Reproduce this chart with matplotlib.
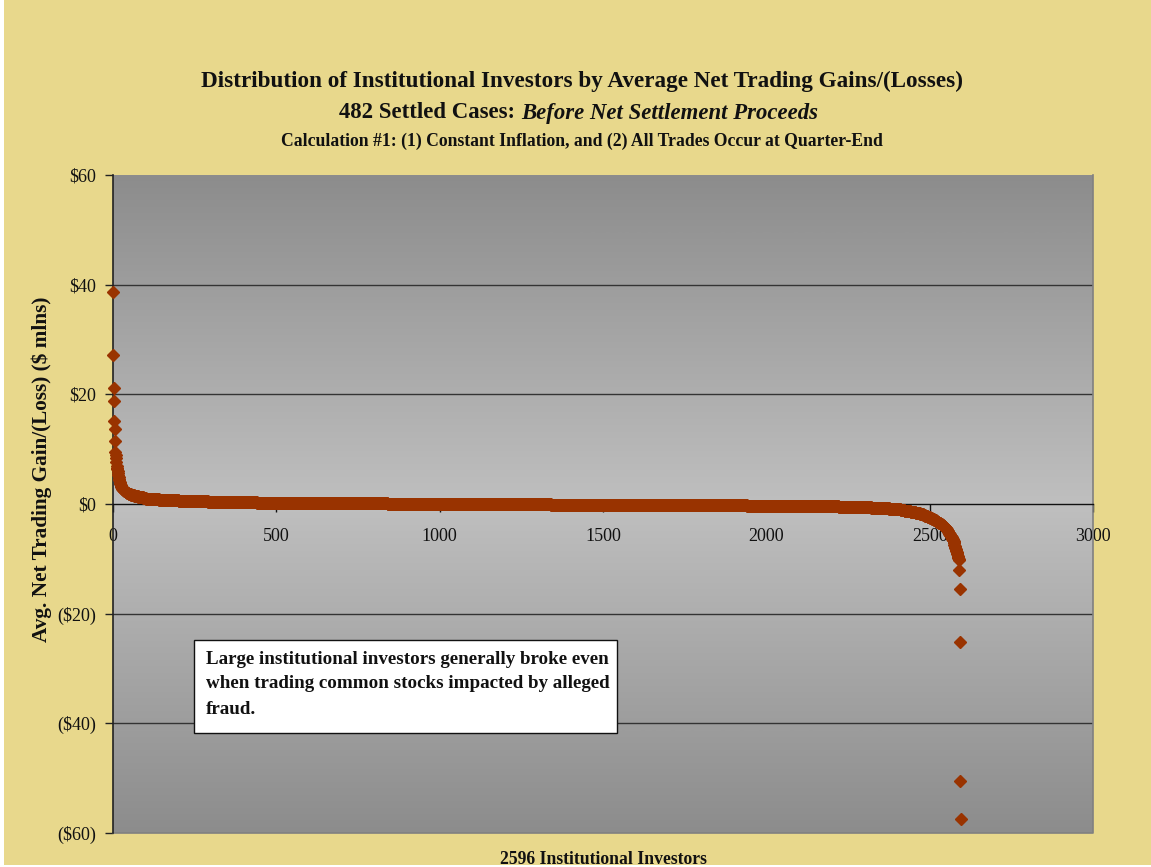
import numpy as np
import matplotlib
matplotlib.use("Agg")
import matplotlib.pyplot as plt
from matplotlib.patches import Rectangle
from matplotlib.ticker import FuncFormatter

# ---- data: average net trading gain/(loss) per investor, $ millions, sorted high to low ----
# largest gainers, one value per investor
head_values = [38.7, 27.2, 21.2, 18.8, 15.2, 13.7, 11.4, 9.5, 8.9, 8.3,
               7.6, 7.0, 6.6, 6.3, 6.0, 5.6, 5.2, 4.9, 4.6, 4.3,
               4.0, 3.8, 3.6, 3.4, 3.3, 3.2, 3.1, 3.0, 2.9, 2.8,
               2.7, 2.65, 2.6, 2.55, 2.5, 2.45, 2.4, 2.35, 2.3, 2.25,
               2.2, 2.15, 2.1, 2.05, 2.0, 1.98, 1.95, 1.92, 1.9, 1.87,
               1.85, 1.82, 1.8, 1.78, 1.75, 1.73, 1.7, 1.68, 1.66, 1.64]

# bulk of investors, as rounded levels and the number of investors at each level
body_levels = [1.6, 1.5, 1.4, 1.3, 1.2, 1.1, 1.0, 0.9, 0.8, 0.7,
               0.6, 0.5, 0.4, 0.3, 0.2, 0.1, 0.0, -0.1, -0.2, -0.3,
               -0.4, -0.5, -0.6, -0.7, -0.8, -0.9, -1.0, -1.1, -1.2, -1.3,
               -1.4, -1.5, -1.6, -1.7, -1.8, -1.9, -2.0, -2.1, -2.2, -2.3,
               -2.4, -2.5, -2.6, -2.7, -2.8, -2.9, -3.0, -3.1, -3.2, -3.3,
               -3.4, -3.5, -3.6, -3.7, -3.8, -3.9, -4.0, -4.1, -4.2, -4.3]
body_counts = [5, 6, 6, 8, 8, 8, 15, 25, 25, 35,
               40, 50, 60, 90, 150, 250, 500, 350, 250, 180,
               100, 60, 40, 30, 25, 20, 15, 12, 10, 9,
               8, 7, 7, 6, 6, 5, 5, 4, 4, 4,
               3, 3, 3, 3, 3, 3, 3, 3, 3, 3,
               3, 3, 2, 2, 2, 2, 2, 2, 2, 2]

# largest losers, one value per investor
tail_values = [-4.4, -4.5, -4.6, -4.7, -4.8, -4.9, -5.0, -5.1, -5.2, -5.3,
               -5.4, -5.5, -5.6, -5.7, -5.8, -5.9, -6.0, -6.1, -6.2, -6.3,
               -6.4, -6.5, -6.6, -6.8, -7.0, -7.2, -7.4, -7.6, -7.8, -8.0,
               -8.2, -8.4, -8.6, -8.8, -9.0, -9.2, -9.4, -9.6, -9.8, -10.0,
               -10.2, -12.0, -15.5, -25.1, -50.5, -57.5]

y_ticks = [60, 40, 20, 0, -20, -40, -60]
x_ticks = [0, 500, 1000, 1500, 2000, 2500, 3000]

gains = np.concatenate([head_values,
                        np.repeat(body_levels, body_counts),
                        tail_values])
rank = np.arange(len(gains))

# ---- figure ----
W, H = 1151, 867
fig = plt.figure(figsize=(W / 100, H / 100), dpi=100, facecolor="white")
BG = "#E8D88C"
fig.patches.append(Rectangle((4 / W, 2 / H), 1 - 4 / W, 1 - 2 / H,
                             transform=fig.transFigure, facecolor=BG,
                             edgecolor="none", zorder=-10))

SERIF = ["Liberation Serif", "DejaVu Serif"]
plt.rcParams["font.family"] = SERIF

left, right, top, bottom = 113, 1093, 175, 833
ax = fig.add_axes([left / W, 1 - bottom / H, (right - left) / W, (bottom - top) / H])
ax.set_zorder(1)
ax.set_xlim(0, 3000)
ax.set_ylim(-60, 60)
ax.set_facecolor("none")

# gray gradient plot area: darker at top and bottom, light through the middle
t = np.linspace(-1, 1, 256)
shade = 0.75 - 0.20 * np.abs(t)
grad = np.stack([shade, shade, shade], axis=-1).reshape(256, 1, 3)
ax.imshow(grad, extent=[0, 1, 0, 1], transform=ax.transAxes,
          aspect="auto", zorder=0, interpolation="bilinear")

for gy in [40, 20, -20, -40]:
    ax.axhline(gy, color="#333333", lw=1.0, zorder=1)

ax.spines["top"].set_visible(False)
ax.spines["right"].set_visible(False)
ax.spines["left"].set_color("#222222")
ax.spines["left"].set_linewidth(1.2)
ax.spines["bottom"].set_position(("data", 0))
ax.spines["bottom"].set_color("#111111")
ax.spines["bottom"].set_linewidth(1.0)
# plot-area frame on the right and bottom
ax.plot([1, 1, 0], [1, 0, 0], transform=ax.transAxes, color="#808080",
        lw=1.2, clip_on=False, zorder=2)

ax.set_yticks(y_ticks)
ax.yaxis.set_major_formatter(FuncFormatter(
    lambda v, p: f"${int(v)}" if v >= 0 else f"(${int(-v)})"))
ax.set_xticks(x_ticks)
ax.tick_params(axis="y", direction="out", length=6, width=1, color="#222222",
               labelsize=13, pad=6, labelcolor="#111111")
ax.tick_params(axis="x", direction="out", length=6, width=1, color="#111111",
               labelsize=13, pad=11, labelcolor="#111111")
for lab in ax.get_xticklabels() + ax.get_yticklabels():
    lab.set_fontfamily(SERIF)

ax.plot(rank, gains, linestyle="none", marker="D", markersize=5.8,
        color="#993300", markeredgecolor="#993300", zorder=3, clip_on=False)

# ---- titles ----
fig.text(582 / W, 1 - 81 / H,
         "Distribution of Institutional Investors by Average Net Trading Gains/(Losses)",
         ha="center", va="center", fontsize=16.7, fontweight="bold", color="#111111")
fig.text(521 / W, 1 - 113 / H, "482 Settled Cases: ", ha="right", va="center",
         fontsize=16.4, fontweight="bold", color="#111111")
fig.text(521 / W, 1 - 113 / H, "Before Net Settlement Proceeds", ha="left", va="center",
         fontsize=16.4, fontweight="bold", style="italic", color="#111111")
fig.text(582 / W, 1 - 141 / H,
         "Calculation #1: (1) Constant Inflation, and (2) All Trades Occur at Quarter-End",
         ha="center", va="center", fontsize=12.7, fontweight="bold", color="#111111")

fig.text(42 / W, 1 - 469 / H, "Avg. Net Trading Gain/(Loss) ($ mlns)", rotation=90,
         ha="center", va="center", fontsize=15.3, fontweight="bold", color="#111111")
fig.text(603 / W, 1 - 859 / H, "2596 Institutional Investors",
         ha="center", va="center", fontsize=12.7, fontweight="bold", color="#111111")

# ---- call-out box ----
bx0, by0, bx1, by1 = 194, 640, 617, 733
fig.patches.append(Rectangle((bx0 / W, 1 - by1 / H), (bx1 - bx0) / W, (by1 - by0) / H,
                             transform=fig.transFigure, facecolor="white",
                             edgecolor="#111111", lw=1.0, zorder=5))
box_lines = ["Large institutional investors generally broke even",
             "when trading common stocks impacted by alleged",
             "fraud."]
for i, line in enumerate(box_lines):
    fig.text(206 / W, 1 - (659 + 25 * i) / H, line, ha="left", va="center",
             fontsize=13.7, fontweight="bold", color="#111111", zorder=6)

fig.savefig("out.png", dpi=100, facecolor="white")
